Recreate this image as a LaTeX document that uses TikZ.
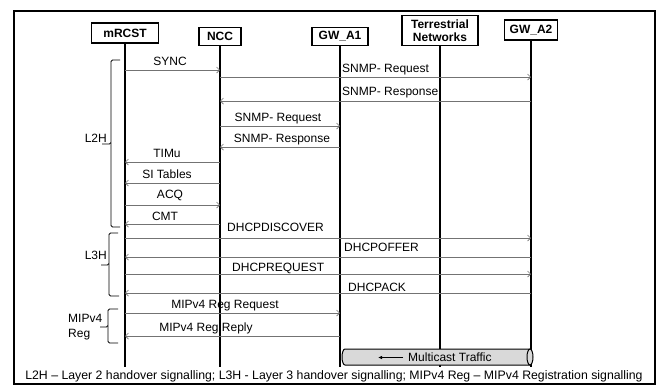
\documentclass[tikz,border=0pt]{standalone}
\usepackage{fontspec}
\setmainfont{Liberation Sans}
\usetikzlibrary{arrows.meta, calc, positioning}

\tikzset{
  entity/.style={draw, line width=1.1pt, font=\fontsize{12}{13.5}\selectfont\bfseries, inner sep=0pt, align=center},
  life/.style={line width=1.1pt},
  msg/.style={draw=black!55, line width=0.7pt, -{Straight Barb[length=3pt,width=6pt]}},
  lbl/.style={font=\fontsize{12}{14}\selectfont, inner sep=0pt, text height=8.6pt, text depth=0pt},
  brace/.style={line width=0.8pt, rounded corners=1.5pt},
}

\begin{document}
\begin{tikzpicture}[x=1pt, y=-1pt]
  \useasboundingbox (0,0) rectangle (665,389);
  % Frame
  \draw[line width=1.2pt] (14,11) rectangle (655,384);

  % Entities
  \node[entity, minimum width=67pt, minimum height=20pt] (mrcst) at (125,33) {mRCST};
  \node[entity, minimum width=42pt, minimum height=18pt] (ncc) at (220,36.5) {NCC};
  \node[entity, minimum width=56pt, minimum height=18pt] (gwa1) at (340,36.5) {GW\_A1};
  \node[entity, minimum width=76pt, minimum height=30pt] (terr) at (440,30.5) {Terrestrial\\Networks};
  \node[entity, minimum width=53pt, minimum height=20pt] (gwa2) at (531,30) {GW\_A2};

  % Lifelines
  \foreach \n in {mrcst, ncc, gwa1, terr, gwa2}
    \draw[life] (\n) -- (\n |- 0,367);

  % L2H messages
  \draw[msg] (mrcst |- 0,70) -- (ncc |- 0,70);
  \draw[msg] (ncc |- 0,77) -- (gwa2 |- 0,77);
  \draw[msg] (gwa2 |- 0,101) -- (ncc |- 0,101);
  \draw[msg] (ncc |- 0,126) -- (gwa1 |- 0,126);
  \draw[msg] (gwa1 |- 0,147) -- (ncc |- 0,147);
  \draw[msg] (ncc |- 0,162) -- (mrcst |- 0,162);
  \draw[msg] (ncc |- 0,183) -- (mrcst |- 0,183);
  \draw[msg] (mrcst |- 0,205) -- (ncc |- 0,205);
  \draw[msg] (ncc |- 0,224) -- (mrcst |- 0,224);

  \node[lbl] (sync) at (170,61) {SYNC};
  \node[lbl, anchor=west] (snmpreqa) at (342,68.5) {SNMP- Request};
  \node[lbl, anchor=west] (snmprespa) at (342,91.5) {SNMP- Response};
  \node[lbl] (snmpreqb) at (278,117) {SNMP- Request};
  \node[lbl] (snmprespb) at (282,138) {SNMP- Response};
  \node[lbl] (timu) at (167,153) {TIMu};
  \node[lbl] (sitab) at (167,174) {SI Tables};
  \node[lbl] (acq) at (170,194) {ACQ};
  \node[lbl] (cmt) at (165,216) {CMT};

  % L3H messages
  \draw[msg] (mrcst |- 0,238) -- (gwa2 |- 0,238);
  \draw[msg] (gwa2 |- 0,257) -- (mrcst |- 0,257);
  \draw[msg] (mrcst |- 0,274) -- (gwa2 |- 0,274);
  \draw[msg] (gwa2 |- 0,293) -- (mrcst |- 0,293);

  \node[lbl, anchor=west] (dhcpdisc) at (227,227) {DHCPDISCOVER};
  \node[lbl, anchor=west] (dhcpoffer) at (344,247) {DHCPOFFER};
  \node[lbl, anchor=west] (dhcpreq) at (232,267) {DHCPREQUEST};
  \node[lbl, anchor=west] (dhcpack) at (348,287) {DHCPACK};

  % MIPv4 registration
  \draw[msg] (mrcst |- 0,313) -- (gwa1 |- 0,313);
  \draw[msg] (gwa1 |- 0,336) -- (mrcst |- 0,336);

  \node[lbl] (mipreq) at (225,304) {MIPv4 Reg Request};
  \node[lbl] (miprep) at (206,327) {MIPv4 Reg Reply};

  % Braces
  \draw[brace] (120,60) -| (111,144) -- (102,144);
  \draw[brace] (111,143) |- (120,227);
  \draw[brace] (118,233) -| (109,265) -- (101,265);
  \draw[brace] (109,264) |- (119,296);
  \draw[brace] (118,309) -| (108,327) -- (100,327);
  \draw[brace] (108,326) |- (118,343);

  \node[lbl, anchor=east] (ltwoh) at (107,138) {L2H};
  \node[lbl, anchor=east] (lthreeh) at (107,255) {L3H};
  \node[lbl, anchor=west] (mipv) at (68,318) {MIPv4};
  \node[lbl, anchor=west] (reg) at (68,333.5) {Reg};

  % Multicast traffic pipe
  \draw[fill=black!15, line width=1pt] (345,349) -- (530,349) arc(90:-90:3pt and 8pt) -- (345,365) arc(270:90:3pt and 8pt) -- cycle;
  \draw[line width=1pt] (530,349) arc(90:270:3pt and 8pt);
  \node[lbl, anchor=west] (mcast) at (408,357.5) {Multicast Traffic};
  \coordinate (mctip) at (378,357.5);
  \draw[line width=1pt, -{Latex[length=4pt,width=3.5pt]}] ([xshift=-5pt]mcast.west) -- (mctip);

  % Legend
  \node[lbl, font=\fontsize{12.3}{14}\selectfont] (legend) at (334,375) {L2H -- Layer 2 handover signalling; L3H - Layer 3 handover signalling; MIPv4 Reg -- MIPv4 Registration signalling};
\end{tikzpicture}
\end{document}
